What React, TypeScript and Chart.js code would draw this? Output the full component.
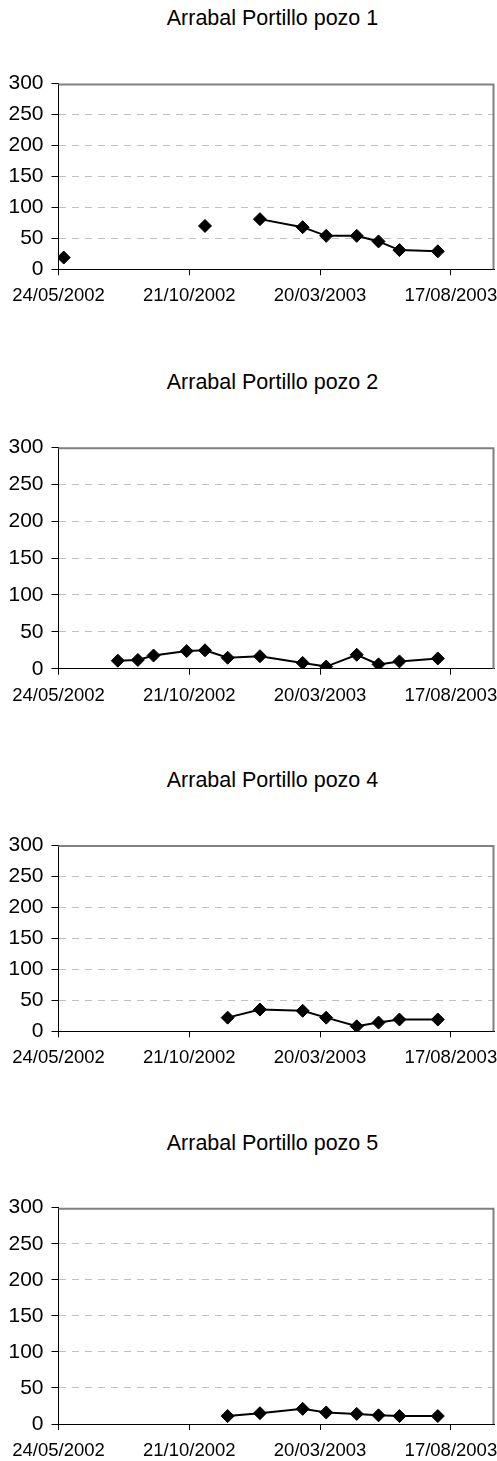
import React, { useEffect, useRef } from "react";
import { Chart, registerables } from "chart.js";

Chart.register(...registerables);

// ---- data ----
const sampleDates = [
  "30/05/2002", "31/07/2002", "23/08/2002", "10/09/2002", "18/10/2002",
  "08/11/2002", "04/12/2002", "10/01/2003", "28/02/2003", "27/03/2003",
  "01/05/2003", "26/05/2003", "19/06/2003", "02/08/2003",
];
const pozo1 = [19, null, null, null, null, 70, null, 81, 68, 54, 54, 45, 31, 29];
const pozo2 = [null, 11, 12, 18, 24, 25, 15, 17, 8, 3, 19, 6, 10, 14];
const pozo4 = [null, null, null, null, null, null, 22, 35, 33, 22, 8, 14, 19, 19];
const pozo5 = [null, null, null, null, null, null, 11, 15, 21, 16, 14, 12, 11, 11];
const chartTitles = [
  "Arrabal Portillo pozo 1",
  "Arrabal Portillo pozo 2",
  "Arrabal Portillo pozo 4",
  "Arrabal Portillo pozo 5",
];
const xTickLabels = ["24/05/2002", "21/10/2002", "20/03/2003", "17/08/2003"];
const xAxisMax = "06/10/2003";
const yTickValues = [0, 50, 100, 150, 200, 250, 300];

// ---- helpers ----
function toSerial(s: string): number {
  const [d, m, y] = s.split("/").map(Number);
  return Date.UTC(y, m - 1, d) / 86400000 + 25569;
}
function fromSerial(v: number): string {
  const dt = new Date((v - 25569) * 86400000);
  const dd = String(dt.getUTCDate()).padStart(2, "0");
  const mm = String(dt.getUTCMonth() + 1).padStart(2, "0");
  return `${dd}/${mm}/${dt.getUTCFullYear()}`;
}

const FONT = "'Liberation Sans', Arial, Helvetica, sans-serif";

// layout of each block (page px)
const blocks = [
  { titleTop: 5.2, top: 63, height: 247, pt: 20.5, xh: 40.7 },
  { titleTop: 368.9, top: 427, height: 283, pt: 20.2, xh: 41.2 },
  { titleTop: 767.2, top: 825, height: 247, pt: 20, xh: 40.7 },
  { titleTop: 1130.2, top: 1187, height: 274, pt: 20.7, xh: 37 },
];

const framePlugin = {
  id: "frame",
  beforeDatasetsDraw(chart: any) {
    const { ctx, chartArea } = chart;
    const { left, right, top, bottom } = chartArea;
    ctx.save();
    ctx.strokeStyle = "#808080";
    ctx.lineWidth = 2;
    ctx.beginPath();
    ctx.moveTo(left, top + 1);
    ctx.lineTo(right - 1, top + 1);
    ctx.lineTo(right - 1, bottom);
    ctx.stroke();
    ctx.restore();
  },
};

function WellChart({ title, values, box }: { title: string; values: (number | null)[]; box: any }) {
  const ref = useRef<HTMLCanvasElement | null>(null);
  useEffect(() => {
    if (!ref.current) return;
    const xMin = toSerial(xTickLabels[0]);
    const xMax = toSerial(xAxisMax);
    const xTicks = xTickLabels.map(toSerial);
    const chart = new Chart(ref.current, {
      type: "line",
      data: {
        datasets: [
          {
            data: sampleDates.map((d, i) => ({ x: toSerial(d), y: values[i] })),
            borderColor: "#000",
            backgroundColor: "#000",
            borderWidth: 2,
            pointStyle: "rectRot",
            pointRadius: 6.5,
            pointBorderWidth: 1,
            pointBackgroundColor: "#000",
            pointBorderColor: "#000",
            spanGaps: false,
            tension: 0,
          },
        ],
      },
      options: {
        animation: false,
        responsive: false,
        devicePixelRatio: 1,
        events: [],
        layout: { autoPadding: false, padding: { left: 0, right: 2.5, top: box.pt, bottom: 0 } },
        plugins: {
          legend: { display: false },
          tooltip: { enabled: false },
          title: { display: false },
        },
        scales: {
          x: {
            type: "linear",
            min: xMin,
            max: xMax,
            afterBuildTicks: (s: any) => {
              s.ticks = xTicks.map((v) => ({ value: v }));
            },
            afterFit: (s: any) => {
              s.height = box.xh;
              s.paddingLeft = 0;
              s.paddingRight = 0;
            },
            ticks: {
              autoSkip: false,
              maxRotation: 0,
              minRotation: 0,
              padding: 10,
              color: "#000",
              font: { family: FONT, size: 18.5 },
              callback: (v: any) => fromSerial(Number(v)),
            },
            grid: {
              display: true,
              drawOnChartArea: false,
              drawTicks: true,
              tickLength: 6,
              tickColor: "#000",
              tickWidth: 1,
              color: "#000",
            },
            border: { display: true, color: "#000", width: 1 },
          },
          y: {
            min: yTickValues[0],
            max: yTickValues[yTickValues.length - 1],
            afterBuildTicks: (s: any) => {
              s.ticks = yTickValues.map((v) => ({ value: v }));
            },
            afterFit: (s: any) => {
              s.width = 58.5;
              s.paddingTop = 0;
              s.paddingBottom = 0;
            },
            ticks: {
              autoSkip: false,
              padding: 8,
              color: "#000",
              font: { family: FONT, size: 21 },
            },
            grid: {
              color: (c: any) =>
                c.tick && (c.tick.value === 0 || c.tick.value === 300) ? "rgba(0,0,0,0)" : "#c0c0c0",
              lineWidth: 1,
              tickLength: 7,
              tickColor: "#000",
              tickWidth: 1,
              tickBorderDash: [],
            },
            border: { display: true, color: "#000", width: 1, dash: [7, 6] },
          },
        },
      } as any,
      plugins: [framePlugin],
    });
    return () => chart.destroy();
  }, [title, values, box]);
  return (
    <>
      <div
        style={{
          position: "absolute",
          left: 48,
          top: box.titleTop,
          width: 449,
          textAlign: "center",
          fontFamily: FONT,
          fontSize: "21.5px",
          lineHeight: "26px",
          color: "#000",
          whiteSpace: "nowrap",
        }}
      >
        {title}
      </div>
      <canvas
        ref={ref}
        width={497}
        height={box.height}
        style={{ position: "absolute", left: 0, top: box.top, width: 497, height: box.height, display: "block" }}
      />
    </>
  );
}

export default function App() {
  const series = [pozo1, pozo2, pozo4, pozo5];
  return (
    <div
      style={{
        position: "absolute",
        left: 0,
        top: 0,
        width: 497,
        height: 1461,
        overflow: "hidden",
        background: "#fff",
      }}
    >
      {series.map((vals, i) => (
        <WellChart key={i} title={chartTitles[i]} values={vals} box={blocks[i]} />
      ))}
    </div>
  );
}
